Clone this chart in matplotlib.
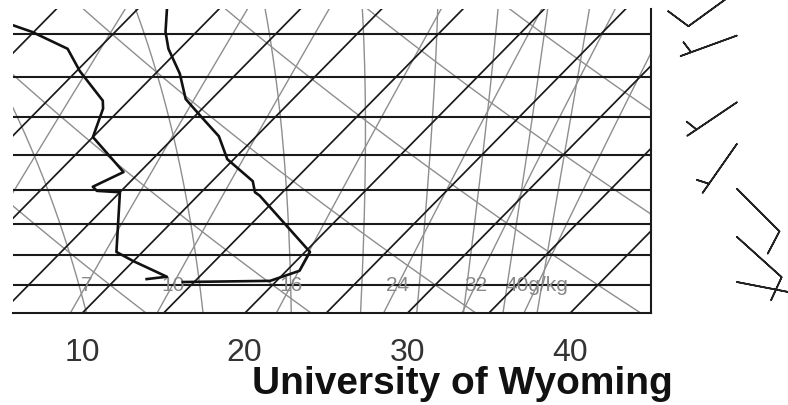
import numpy as np
import matplotlib
matplotlib.use("Agg")
import matplotlib.pyplot as plt

plt.rcParams['font.family'] = ['Liberation Sans', 'DejaVu Sans']

# sounding (hPa, degC)
temp_p = [623, 648, 667, 696, 727, 748, 775, 806, 837, 853, 858, 945, 976, 993, 995]
temp_t = [-3.2, -1.9, -0.7, 1.5, 3.4, 5.3, 7.7, 9.6, 12.5, 13.3, 13.8, 20.3, 20.8, 19.6, 14.3]
dwpt_p = [641, 648, 667, 693, 729, 739, 776, 802, 824, 845, 851, 853, 945, 960, 986, 990]
dwpt_t = [-11.6, -10.1, -6.9, -4.8, -1.6, -1.1, 0.0, 2.2, 4.0, 3.0, 3.5, 5.0, 8.4, 10.0, 13.0, 11.9]

# winds: pressure, direction (deg), speed (kt)
wind_p = [604, 652, 731, 785, 848, 921, 995]
wind_dir = [234, 250, 236, 215, 135, 132, 101]
wind_spd = [10, 5, 5, 5, 10, 10, 10]

# background lines
isobars = [650, 700, 750, 800, 850, 900, 950, 1000]
isotherms = [-20, -15, -10, -5, 0, 5, 10, 15, 20, 25, 30, 35, 40, 45]
dry_theta = [0, 10, 20, 30, 40, 50, 60, 70, 80]          # degC
moist_thetae = [300, 320, 340, 360, 380, 400, 420, 440]  # K
mix_ratio = [4, 7, 10, 16, 24, 32, 40]                   # g/kg
mix_labels = ['', '7', '10', '16', '24', '32', '40g/kg']
xticks = [10, 20, 30, 40]

P_BOT, P_TOP = 1050, 623
SKEW = 35.3


def skew(t, p):
    return np.asarray(t) + SKEW * np.log(P_BOT / np.asarray(p, dtype=float))


def dewpoint(e):
    a = np.log(e / 6.112)
    return 243.5 * a / (17.67 - a)


def thetae(tc, p):
    es = 6.112 * np.exp(17.67 * tc / (tc + 243.5))
    r = 622.0 * es / (p - es)
    tk = tc + 273.15
    return (tk * (1000.0 / p) ** (0.2854 * (1 - 0.00028 * r))
            * np.exp((3.376 / tk - 0.00254) * r * (1 + 0.00081 * r)))


fig = plt.figure(figsize=(7.88, 4.06), dpi=100)
ax = fig.add_axes([13 / 788, 91.6 / 406, 638.5 / 788, 304.4 / 406])
ax.set_yscale('log')
ax.set_ylim(P_BOT, P_TOP)
ax.set_xlim(5.76, 45.02)

pp = np.linspace(P_BOT, 590, 200)
gray = '#8e8e8e'

for th in dry_theta:
    t = (th + 273.15) * (pp / 1000.0) ** 0.2857 - 273.15
    ax.plot(skew(t, pp), pp, color=gray, lw=1.0)

tgrid = np.linspace(-45, 55, 2001)
for the in moist_thetae:
    t = [np.interp(the, thetae(tgrid, p), tgrid) for p in pp]
    ax.plot(skew(t, pp), pp, color=gray, lw=1.0)

for w, lab in zip(mix_ratio, mix_labels):
    t = dewpoint(w * pp / (622.0 + w))
    ax.plot(skew(t, pp), pp, color=gray, lw=1.0)
    if lab:
        x0 = skew(dewpoint(w * 1000.0 / (622.0 + w)), 1000)
        ax.text(x0, 1000, lab, color='#888888', fontsize=15,
                ha='center', va='center', zorder=5)

for t0 in isotherms:
    ax.plot(skew([t0, t0], [P_BOT, 590]), [P_BOT, 590], color='#1a1a1a', lw=1.25)

for p in isobars:
    ax.axhline(p, color='#1a1a1a', lw=1.5)

ax.plot(skew(temp_t, temp_p), temp_p, color='#111111', lw=1.9, zorder=6)
ax.plot(skew(dwpt_t, dwpt_p), dwpt_p, color='#111111', lw=1.9, zorder=6)

for s in ['left', 'top']:
    ax.spines[s].set_visible(False)
for s in ['right', 'bottom']:
    ax.spines[s].set_linewidth(1.5)
    ax.spines[s].set_color('#1a1a1a')
ax.set_yticks([])
ax.minorticks_off()
ax.set_xticks(xticks)
ax.set_xticklabels([str(v) for v in xticks])
ax.tick_params(axis='x', length=0, pad=17, labelsize=23, labelcolor='#333333')
ax.tick_params(axis='y', which='both', length=0, labelleft=False)

# wind barbs
bax = fig.add_axes([687 / 788, 91.6 / 406, 100 / 788, 304.4 / 406])
bax.set_yscale('log')
bax.set_ylim(P_BOT, P_TOP)
bax.set_xlim(-1, 1)
bax.axis('off')
rad = np.deg2rad(wind_dir)
u = -np.array(wind_spd) * np.sin(rad)
v = -np.array(wind_spd) * np.cos(rad)
bax.barbs(np.zeros(len(wind_p)), wind_p, u, v, length=9.3, color='#222222',
          linewidth=1.2, clip_on=False)

fig.text(252 / 788, 12 / 406, 'University of Wyoming', fontsize=28,
         fontweight='bold', color='#111111', ha='left', va='baseline')

fig.savefig('out.png', dpi=100)
